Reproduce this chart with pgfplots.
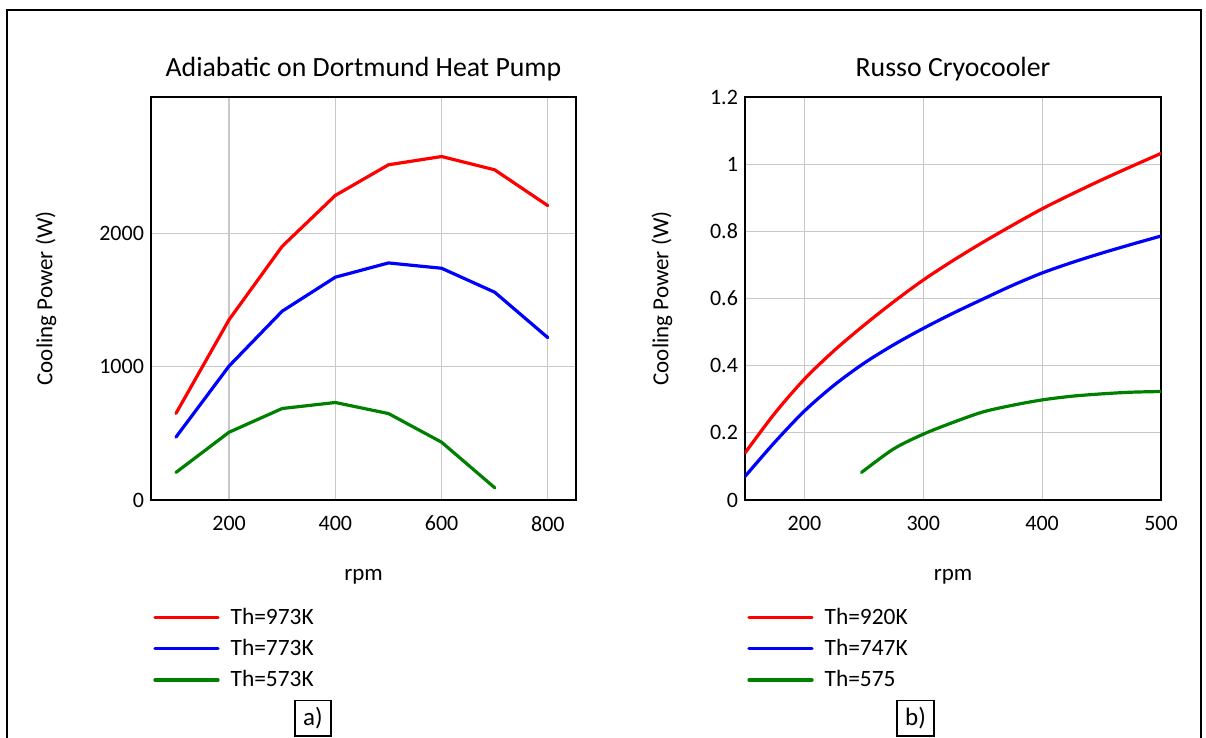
\documentclass[border=0pt]{standalone}
\usepackage{fontspec}
\setmainfont{Carlito}
\usepackage{pgfplots}
\pgfplotsset{compat=1.18}

\definecolor{gridgray}{RGB}{200,200,200}
\definecolor{darkgreen}{RGB}{0,128,0}

\pgfplotsset{
  cryo/.style={
    scale only axis,
    height=201.5pt,
    axis line style={black, line width=1pt},
    grid=major,
    grid style={gridgray, line width=0.6pt},
    major tick length=0pt,
    tick label style={font=\fontsize{11}{13}\selectfont},
    xticklabel style={yshift=-4.5pt},
    /pgf/number format/assume math mode=true,
    /pgf/number format/1000 sep={},
    scaled ticks=false,
    title style={font=\fontsize{13.9}{16}\selectfont, anchor=center, at={(axis description cs:0.5,1.040)}},
    label style={font=\fontsize{11.5}{13}\selectfont},
    xlabel style={anchor=center, at={(axis description cs:0.5,-0.191)}},
    every axis plot/.append style={line width=1.6pt, line join=round, line cap=round},
    legend image code/.code={\draw[##1] (0pt,0pt) -- (31.5pt,0pt); \path (35pt,0pt);},
    legend style={draw=none, fill=none, anchor=north west,
      font=\fontsize{11.7}{13}\selectfont, row sep=2pt,
      cells={anchor=west}},
  },
}

\begin{document}
\begin{tikzpicture}
\useasboundingbox (0,0) rectangle (603pt,369pt);
\draw[line width=0.6pt] (3.5pt,0pt) -- (3.5pt,364pt) -- (600.5pt,364pt) -- (600.5pt,0pt);

% a) Dortmund heat pump
\begin{axis}[cryo,
    at={(75.5pt,119pt)}, anchor=south west,
    width=212.5pt,
    xmin=53, xmax=853, ymin=0, ymax=3026,
    xtick={200,400,600,800},
    ytick={0,1000,2000},
    title={Adiabatic on Dortmund Heat Pump},
    xlabel={rpm},
    ylabel={Cooling Power (W)},
    ylabel style={anchor=center, at={(axis description cs:-0.247,0.5)}},
    legend style={at={(axis description cs:-0.0094,-0.247)}},
]
\addplot[red] coordinates {
  (100,650) (200,1354) (300,1905) (400,2287) (500,2517) (600,2579) (700,2479) (800,2210)
};
\addplot[blue] coordinates {
  (100,472) (200,1006) (300,1418) (400,1673) (500,1780) (600,1740) (700,1560) (800,1219)
};
\addplot[darkgreen] coordinates {
  (100,207) (200,509) (300,687) (400,732) (500,649) (600,434) (700,92)
};
\legend{Th=973K, Th=773K, Th=573K}
\end{axis}

% b) Russo cryocooler
\begin{axis}[cryo,
    at={(372.5pt,119pt)}, anchor=south west,
    width=208pt,
    xmin=150, xmax=500, ymin=0, ymax=1.2,
    xtick={200,300,400,500},
    ytick={0,0.2,0.4,0.6,0.8,1,1.2},
    title={Russo Cryocooler},
    xlabel={rpm},
    ylabel={Cooling Power (W)},
    ylabel style={anchor=center, at={(axis description cs:-0.1995,0.5)}},
    legend style={at={(axis description cs:-0.0096,-0.247)}},
]
\addplot[red, smooth] coordinates {
  (150,0.140) (175,0.258) (200,0.360) (225,0.445) (250,0.520) (275,0.590)
  (300,0.655) (325,0.713) (350,0.767) (375,0.818) (400,0.867) (425,0.911)
  (450,0.953) (475,0.993) (500,1.032)
};
\addplot[blue, smooth] coordinates {
  (150,0.070) (175,0.172) (200,0.265) (225,0.342) (250,0.407) (275,0.462)
  (300,0.511) (325,0.556) (350,0.598) (375,0.639) (400,0.676) (425,0.707)
  (450,0.735) (475,0.761) (500,0.786)
};
\addplot[darkgreen, smooth] coordinates {
  (248,0.082) (275,0.152) (300,0.196) (325,0.231) (350,0.262)
  (375,0.282) (400,0.298) (425,0.309) (450,0.316) (475,0.321) (500,0.323)
};
\legend{Th=920K, Th=747K, Th=575}
\end{axis}

\node[draw, line width=0.6pt, minimum width=18pt, minimum height=17.6pt, inner sep=0pt,
  font=\fontsize{12.5}{14}\selectfont] at (156.5pt,9.8pt) {a)};
\node[draw, line width=0.6pt, minimum width=18.5pt, minimum height=17.6pt, inner sep=0pt,
  font=\fontsize{12.5}{14}\selectfont] at (457.75pt,9.8pt) {b)};
\end{tikzpicture}
\end{document}
